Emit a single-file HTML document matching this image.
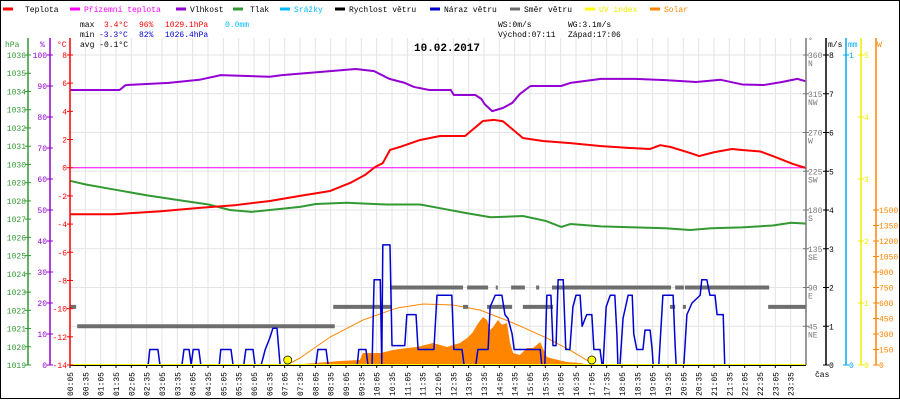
<!DOCTYPE html>
<html><head><meta charset="utf-8">
<style>
html,body{margin:0;padding:0;background:#fff;}
svg{display:block;font-family:"Liberation Mono",monospace;font-size:8px;}
</style></head>
<body>
<svg id="chart" width="900" height="400" viewBox="0 0 900 400"></svg>
<script>
// ---- data ----
const tempT=[5,90,180,258,330,396,455,514,553,582,602,617,631,650,690,729,778,813,834,852,891,930,984,1042,1100,1140,1160,1180,1218,1236,1265,1300,1320,1356,1380,1420,1445];
const tempV=[-3.3,-3.3,-3.1,-2.85,-2.65,-2.36,-2.0,-1.65,-1.08,-0.52,0.05,0.33,1.26,1.47,1.97,2.25,2.25,3.32,3.4,3.3,2.11,1.9,1.75,1.54,1.4,1.33,1.6,1.47,1.05,0.83,1.1,1.33,1.26,1.15,0.83,0.26,-0.02];
const humT=[5,102,114,198,258,300,396,420,514,564,600,630,660,678,708,750,756,798,810,816,831,852,870,885,906,966,984,1044,1110,1170,1230,1278,1320,1362,1398,1428,1445];
const humV=[88.7,88.7,90.3,91,92,93.5,93,93.5,94.8,95.5,94.8,92.3,91,89.7,88.7,88.7,87.1,87.1,85.8,84.2,81.9,82.9,84.5,87.4,90,90,91,92.3,92.3,91.9,91.3,92,90.5,90.3,91.3,92.3,91.5];
const presT=[5,36,96,156,216,276,318,360,396,455,486,546,624,690,729,778,828,891,936,966,984,1044,1110,1170,1218,1260,1320,1380,1416,1445];
const presV=[1029.1,1028.9,1028.6,1028.3,1028.05,1027.8,1027.5,1027.4,1027.5,1027.67,1027.83,1027.9,1027.8,1027.8,1027.6,1027.34,1027.1,1027.17,1026.9,1026.57,1026.73,1026.6,1026.55,1026.5,1026.4,1026.5,1026.55,1026.65,1026.8,1026.75];
const gustT=[5,158,161,177,181,224,228,238,242,246,257,261,297,300,320,324,345,349,363,367,379,387,396,402,410,416,486,490,506,510,567,570,584,588,596,600,612,615,617,631,635,660,664,682,686,717,723,752,756,772,776,799,803,823,827,837,850,856,862,870,874,905,925,928,934,938,946,950,956,960,970,975,983,989,995,1003,1007,1013,1016,1026,1030,1042,1046,1048,1054,1062,1071,1075,1077,1081,1087,1097,1105,1108,1114,1126,1130,1140,1144,1146,1157,1165,1185,1189,1191,1206,1212,1222,1238,1241,1251,1257,1267,1271,1283,1286,1445];
const gustV=[0,0,0.4,0.4,0,0,0.4,0.4,0,0.4,0.4,0,0,0.4,0.4,0,0,0.4,0.4,0,0,0.4,0.7,0.95,0.95,0,0,0.4,0.4,0,0,0.4,0.4,0,0,2.2,2.2,0,3.1,3.1,0.5,0.5,1.3,1.3,0.4,0.4,1.8,1.8,0.4,0.4,0,0,0.4,0.4,1.5,1.8,1.8,1.3,1.2,0.8,0.4,0.4,0.4,0,0,1.8,1.8,0.5,0.5,2.2,2.2,0.4,0.4,1.5,1.8,1.8,1.0,1.2,1.3,1.3,0.4,0.4,0,0,1.5,1.8,1.8,0.8,0,0,1.2,1.8,1.8,0.8,0.4,0.4,0.9,0.9,0.4,0,0,1.8,1.8,0.5,0,0,1.3,1.6,1.8,2.2,2.2,1.8,1.8,1.3,1.3,0,0];
const dirStart=[5,19,520,631,774,782,821,838,868,891,917,948,1179,1189,1204,1208,1371];
const dirEnd=[17,523,633,774,784,823,870,842,895,950,923,1181,1189,1206,1210,1373,1445];
const dirV=[67.5,45,67.5,90,67.5,90,67.5,90,90,67.5,90,90,67.5,90,67.5,90,67.5];
const solarT=[440,461,533,572,578,612,637,664,684,715,743,754,768,782,792,803,813,821,827,833,842,850,860,866,872,885,899,911,925,930,938,950,977,1003,1022];
const solarV=[0,10,39,48,116,116,145,165,174,213,174,194,213,261,310,400,465,435,339,368,435,390,407,213,116,97,165,165,223,165,77,60,29,19,0];
const theoT=[429,455,514,578,645,696,754,807,872,938,983,1022,1032];
const theoV=[0,68,271,435,552,590,581,532,407,261,145,29,0];
const tickLabels=["00:05","00:35","01:05","01:35","02:05","02:35","03:05","03:35","04:05","04:35","05:05","05:35","06:05","06:35","07:05","07:35","08:05","08:35","09:05","09:35","10:05","10:35","11:05","11:35","12:05","12:35","13:05","13:35","14:05","14:35","15:05","15:35","16:05","16:35","17:05","17:35","18:05","18:35","19:05","19:35","20:05","20:35","21:05","21:35","22:05","22:35","23:05","23:35"];
const hpaTicks=[1019,1020,1021,1022,1023,1024,1025,1026,1027,1028,1029,1030,1031,1032,1033,1034,1035,1036];
const humTicks=[0,10,20,30,40,50,60,70,80,90,100];
const tempTicks=[-14,-12,-10,-8,-6,-4,-2,0,2,4,6,8];
const wsTicks=[0,1,2,3,4,5,6,7,8];
const dirTicks=[45,90,135,180,225,270,315,360];
const dirNames=["NE","E","SE","S","SW","W","NW","N"];
const uvTicks=[0,1,2,3,4,5];
const wTicks=[0,150,300,450,600,750,900,1050,1200,1350,1500];
const sunrise=431, sunset=1026;

// ---- scales ----
const X0=70,X1=806,Y0=55,YB=365;
const xs=m=>X0+(m-5)/1440*(X1-X0);
const yT=c=>Y0+(8-c)*310/22;
const yH=p=>YB-p*3.1;
const yP=h=>YB-(h-1019)*310/17;
const yWS=v=>YB-v*38.75;
const yD=d=>YB-d*310/360;
const yW=w=>YB-w*310/3000;
const yUV=u=>YB-u*62;

const svg=document.getElementById('chart');
const NS='http://www.w3.org/2000/svg';
function el(tag,attrs,parent){const e=document.createElementNS(NS,tag);for(const k in attrs)e.setAttribute(k,attrs[k]);(parent||svg).appendChild(e);return e;}
function txt(x,y,s,fill,anchor,parent){const t=el('text',{x:x,y:y,fill:fill||'#000','text-anchor':anchor||'start'},parent);t.textContent=s;return t;}

// grid
const grid=el('g',{});


tickLabels.forEach((l,i)=>{const x=xs(5+i*30);el('line',{x1:x,y1:38,x2:x,y2:YB,stroke:'#e4e4e4','stroke-width':1},grid);});
wsTicks.forEach(v=>{const y=yWS(v);el('line',{x1:X0,y1:y,x2:X1,y2:y,stroke:'#e4e4e4','stroke-width':1},grid);});

// zero line
const zl=el('line',{x1:X0,y1:yT(0),x2:X1,y2:yT(0),stroke:'#f0f','stroke-width':1});



// solar area
let sp='M'+xs(solarT[0])+','+YB;
solarT.forEach((t,i)=>{sp+=' L'+xs(t)+','+yW(solarV[i]);});
sp+=' L'+xs(solarT[solarT.length-1])+','+YB+' Z';
const sa=el('path',{d:sp,fill:'#ff8400',stroke:'none'});



// theoretical solar line
const tl=el('polyline',{points:theoT.map((t,i)=>xs(t)+','+yW(theoV[i])).join(' '),fill:'none',stroke:'#ff8400','stroke-width':1});



// wind direction segments
const dg=el('g',{});


dirV.forEach((d,i)=>{const s=el('line',{x1:xs(dirStart[i]),y1:yD(d),x2:xs(dirEnd[i]),y2:yD(d),stroke:'#6e6e6e','stroke-width':4},dg);

});

function line(T,V,f,color,w,name){const p=el('polyline',{points:T.map((t,i)=>xs(t)+','+f(V[i])).join(' '),fill:'none',stroke:color,'stroke-width':w,'stroke-linejoin':'round'});

return p;}
line(gustT,gustV,yWS,'#0000d0',1.5,'wind-gust-line');
line(presT,presV,yP,'#339933',2,'pressure-line');
line(humT,humV,yH,'#9400d3',2,'humidity-line');
line(tempT,tempV,yT,'#ff0000',2,'temperature-line');

// UV baseline
const uvl=el('line',{x1:X0,y1:YB,x2:X1,y2:YB,stroke:'#ffff00','stroke-width':2});


[sunrise,sunset].forEach((m,i)=>{const c=el('circle',{cx:xs(m),cy:YB-5,r:4,fill:'#ffff00',stroke:'#000','stroke-width':0.7});

});

// bottom axis
const xa=el('g',{});


el('line',{x1:X0,y1:YB+0.5,x2:X1,y2:YB+0.5,stroke:'#000','stroke-width':1},xa);
tickLabels.forEach((l,i)=>{const x=xs(5+i*30);el('line',{x1:x,y1:YB,x2:x,y2:YB+3,stroke:'#000'},xa);
const t=txt(0,0,l,'#000','end',xa);t.setAttribute('transform','translate('+(x+3)+','+(YB+7)+') rotate(-90)');

});
txt(815,377,'čas','#000','start',xa);

// left axes
function vaxis(x,color,ticks,f,labelX,name,fmt){const g=el('g',{});


el('line',{x1:x,y1:38,x2:x,y2:YB,stroke:color,'stroke-width':1.5},g);
ticks.forEach(v=>{const y=f(v);el('line',{x1:x-3,y1:y,x2:x+3,y2:y,stroke:color},g);txt(labelX,y+3,fmt?fmt(v):String(v),color,labelX<x?'end':'start',g);});return g;}
vaxis(28,'#339933',hpaTicks,yP,26,'pressure-axis');
vaxis(50,'#9400d3',humTicks,yH,47,'humidity-axis');
vaxis(70,'#ff0000',tempTicks,yT,67,'temperature-axis');
txt(5,47,'hPa','#339933');txt(40,47,'%','#9400d3');txt(57,47,'°C','#ff0000');

// right axes
const dax=el('g',{});


el('line',{x1:806,y1:38,x2:806,y2:YB,stroke:'#777','stroke-width':1.5},dax);
dirTicks.forEach((d,i)=>{const y=yD(d);el('line',{x1:803,y1:y,x2:809,y2:y,stroke:'#777'},dax);txt(808,y+3,String(d),'#777','start',dax);txt(808,y+11,dirNames[i],'#777','start',dax);});
txt(808,43,'°','#777');
vaxis(826,'#000',wsTicks,yWS,829,'wind-speed-axis');
txt(828,47,'m/s','#000');
vaxis(846,'#00aaee',[0,1],v=>YB-v*310,849,'rain-axis');
txt(848,47,'mm','#00aaee');
vaxis(861,'#eeee00',uvTicks,yUV,864,'uv-axis');
vaxis(876,'#ff8400',wTicks,yW,879,'solar-axis');
txt(877,47,'W','#ff8400');

// legend
const legend=[['Teplota','#ff0000',3,25],['Přízemní teplota','#ff00ff',70,84],['Vlhkost','#9400d3',176,190],['Tlak','#339933',233,250],['Srážky','#00bbff',280,294],['Rychlost větru','#000',335,349],['Náraz větru','#0000d0',430,444],['Směr větru','#6e6e6e',510,524],['UV index','#ffff00',585,599],['Solar','#ff8400',650,664]];
legend.forEach(l=>{const g=el('g',{});


el('line',{x1:l[2],y1:9,x2:l[2]+10,y2:9,stroke:l[1],'stroke-width':3},g);
txt(l[3],12,l[0],l[0]==='UV index'?'#eeee00':(l[1]==='#ff00ff'||l[1]==='#00bbff'||l[1]==='#ff8400'?l[1]:'#000'),'start',g);});

// stats
const st=el('g',{});


txt(80,27,'max','#000','start',st);txt(104,27,'3.4°C','#ff0000','start',st);txt(139,27,'96%','#ff0000','start',st);txt(165,27,'1029.1hPa','#ff0000','start',st);txt(225,27,'0.0mm','#00bbff','start',st);
txt(80,37,'min','#000','start',st);txt(99,37,'-3.3°C','#0000d0','start',st);txt(139,37,'82%','#0000d0','start',st);txt(165,37,'1026.4hPa','#0000d0','start',st);
txt(80,47,'avg -0.1°C','#000','start',st);
txt(498,27,'WS:0m/s','#000','start',st);txt(568,27,'WG:3.1m/s','#000','start',st);
txt(498,37,'Východ:07:11','#000','start',st);txt(568,37,'Západ:17:06','#000','start',st);
const title=txt(414,51,'10.02.2017','#000');
title.setAttribute('style','font-size:11px;font-weight:bold');



// border
const b=el('rect',{x:0.5,y:0.5,width:899,height:398,fill:'none',stroke:'#000','stroke-width':1});


</script>
</body></html>
